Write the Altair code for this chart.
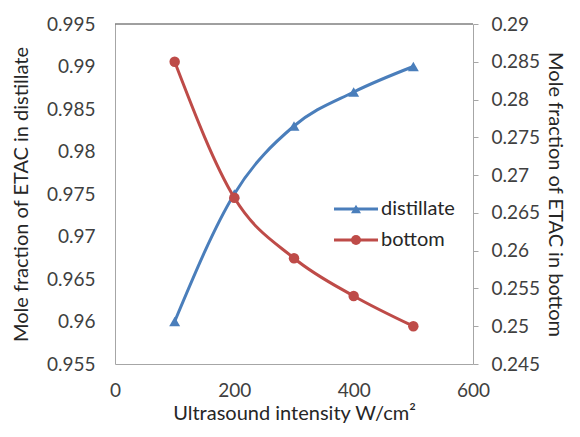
import altair as alt
import pandas as pd

intensity = [100, 200, 300, 400, 500]
distillate = [0.960, 0.975, 0.983, 0.987, 0.990]
bottom = [0.285, 0.267, 0.259, 0.254, 0.250]

left_ticks = [0.955, 0.96, 0.965, 0.97, 0.975, 0.98, 0.985, 0.99, 0.995]
right_ticks = [0.245, 0.25, 0.255, 0.26, 0.265, 0.27, 0.275, 0.28, 0.285, 0.29]
x_ticks = [0, 200, 400, 600]

BLUE = "#4a7ebb"
RED = "#be4b48"
FONT = "Lato"
W, H = 358, 340

df = pd.DataFrame({"x": intensity, "d": distillate, "b": bottom})
base = alt.Chart(df)

xenc = alt.X("x:Q", scale=alt.Scale(domain=[0, 600], nice=False),
             axis=alt.Axis(values=x_ticks, title="Ultrasound intensity W/cm²",
                           grid=False, ticks=False, domainColor="#a6a6a6",
                           labelPadding=17, titlePadding=3, labelFlush=False))

yleft = alt.Y("d:Q", scale=alt.Scale(domain=[0.955, 0.995], nice=False, zero=False),
              axis=alt.Axis(values=left_ticks, format=".3~f", grid=False, ticks=False,
                            title="Mole fraction of ETAC in distillate",
                            domainColor="#a6a6a6", labelPadding=20, titlePadding=15))
yright = alt.Y("b:Q", scale=alt.Scale(domain=[0.245, 0.29], nice=False, zero=False),
               axis=alt.Axis(values=right_ticks, format=".3~f", grid=False, orient="right",
                             title="Mole fraction of ETAC in bottom", tickSize=5,
                             tickColor="#a6a6a6", domainColor="#a6a6a6",
                             labelPadding=13, titlePadding=5))

dl = base.mark_line(color=BLUE, strokeWidth=3, interpolate="monotone").encode(x=xenc, y=yleft)
dp = base.mark_point(color=BLUE, filled=True, opacity=1, shape="triangle-up", size=120).encode(x=xenc, y=yleft)
bl = base.mark_line(color=RED, strokeWidth=3, interpolate="monotone").encode(x=xenc, y=yright)
bp = base.mark_point(color=RED, filled=True, opacity=1, shape="circle", size=110).encode(x=xenc, y=yright)

left_layer = alt.layer(dl, dp)
right_layer = alt.layer(bl, bp)

# top frame line
top = alt.Chart(pd.DataFrame({"a": [0]})).mark_rule(color="#404040", strokeWidth=1).encode(
    x=alt.value(0), x2=alt.value(W), y=alt.value(0))

# manual legend
lx0, lx1, ly0, dy, tx = 219, 263, 185, 31, 266
legend_layers = []
for i, (nm, col, shp, sz) in enumerate([("distillate", BLUE, "triangle-up", 100), ("bottom", RED, "circle", 100)]):
    one = alt.Chart(pd.DataFrame({"name": [nm]}))
    yy = ly0 + i * dy
    legend_layers.append(one.mark_rule(color=col, strokeWidth=3).encode(
        x=alt.value(lx0), x2=alt.value(lx1), y=alt.value(yy)))
    legend_layers.append(one.mark_point(color=col, filled=True, opacity=1, shape=shp, size=sz).encode(
        x=alt.value((lx0 + lx1) / 2), y=alt.value(yy)))
    legend_layers.append(one.mark_text(align="left", baseline="middle", font=FONT, fontSize=20,
                                       color="#262626").encode(
        x=alt.value(tx), y=alt.value(yy), text="name:N"))

chart = alt.layer(left_layer, right_layer, top, *legend_layers).resolve_scale(y="independent").properties(
    width=W, height=H,
    background="white",
    autosize=alt.AutoSizeParams(type="none"),
    padding={"left": 107, "top": 16, "right": 564 - 107 - W, "bottom": 421 - 16 - H},
).configure_view(stroke=None).configure_axis(
    labelFont=FONT, titleFont=FONT, labelFontSize=19, titleFontSize=20,
    labelColor="#404040", titleColor="#262626", titleFontWeight="normal"
)

chart.save("out.html", embed_options={"renderer": "svg", "actions": False})
